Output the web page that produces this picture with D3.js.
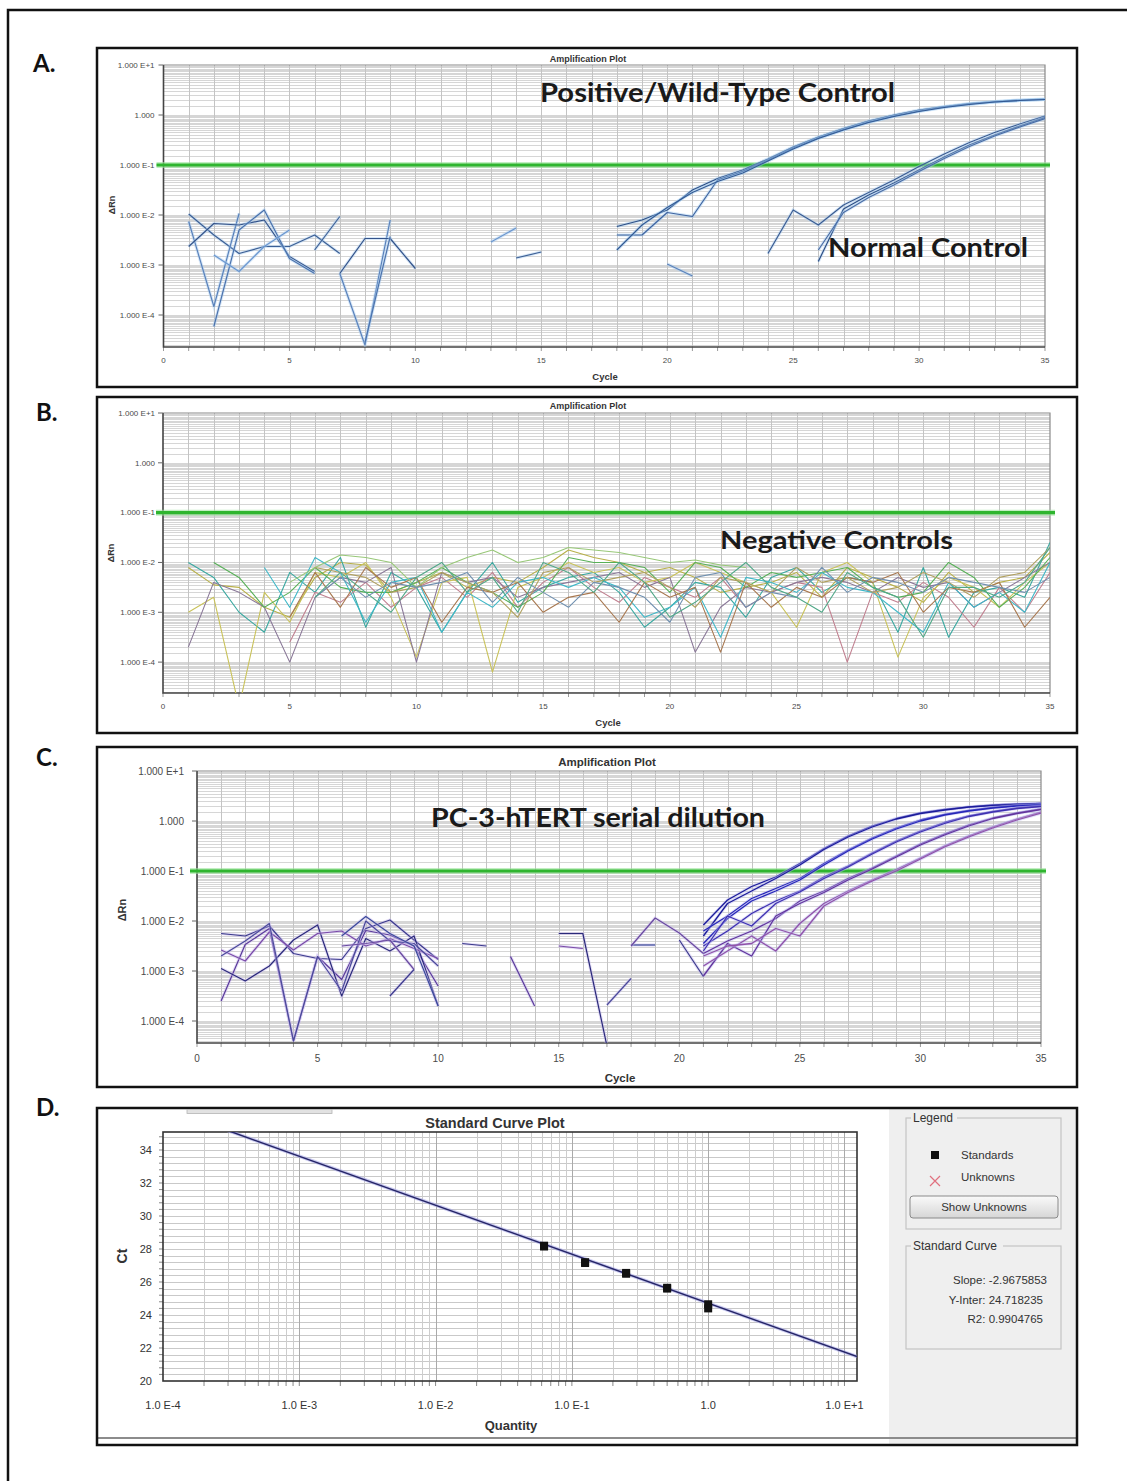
<!DOCTYPE html>
<html>
<head>
<meta charset="utf-8">
<script src="https://cdn.jsdelivr.net/npm/d3@7"></script>
<style>
  body { margin: 0; background: #fff; }
  svg { display: block; }
</style>
</head>
<body>
<div id="chart"></div>
<script>
// values are log10(ΔRn), one entry per cycle starting at "from"
const aNoise = [
	{from: 1, v: [-1.98, -2.4, -2.77, -2.63, -2.63, -2.4, -2.77]},
	{from: 1, v: [-2.13, -3.83, -1.97]},
	{from: 1, v: [-2.63, -2.17, -2.2, -2.1, -2.83, -3.13]},
	{from: 2, v: [-4.23, -2.3, -1.9, -2.87, -3.17]},
	{from: 2, v: [-2.8, -3.13, -2.63, -2.3]},
	{from: 6, v: [-2.7, -2.03]},
	{from: 7, v: [-3.17, -4.6, -2.1]},
	{from: 7, v: [-3.17, -2.47, -2.47, -3.07]},
	{from: 8, v: [-4.55, -2.43]},
	{from: 13, v: [-2.54, -2.26]},
	{from: 14, v: [-2.86, -2.74]},
	{from: 20, v: [-2.98, -3.22]}
];
const posRep1 = [-2.23, -2.1, -1.9, -1.5, -1.27, -1.1, -0.88, -0.64, -0.44, -0.27, -0.12, 0.0, 0.1, 0.17, 0.23, 0.27, 0.3, 0.32];
const posRep2 = [-2.4, -2.4, -1.95, -2.03, -1.3, -1.13, -0.9, -0.66, -0.46, -0.29, -0.14, -0.02, 0.08, 0.16, 0.22, 0.26, 0.29, 0.31];
const posRep3 = [-2.7, -2.2, -1.85, -1.55, -1.33, -1.16, -0.92, -0.68, -0.47, -0.3, -0.15, -0.03, 0.07, 0.15, 0.21, 0.26, 0.29, 0.31];
const normRep1 = [-2.77, -1.9, -2.2, -1.8, -1.55, -1.3, -1.03, -0.78, -0.55, -0.35, -0.18, -0.02];
const normRep2 = [-2.93, -1.88, -1.6, -1.36, -1.1, -0.84, -0.6, -0.4, -0.22, -0.05];
const normRep3 = [-2.7, -1.95, -1.65, -1.4, -1.13, -0.87, -0.63, -0.42, -0.24, -0.07];

// panel B, negative controls, cycles 1..35
const negWells = [
	[-2.1, -2.45, -2.5, -2.9, -3.1, -2.3, -2.0, -2.05, -2.6, -2.4, -2.2, -2.5, -2.3, -2.4, -2.1, -1.75, -1.9, -2.0, -2.2, -2.1, -2.3, -2.6, -2.5, -2.4, -2.2, -2.7, -2.1, -2.3, -2.5, -2.8, -2.2, -2.6, -2.4, -2.3, -1.8],
	[-2.0, -2.3, -3.0, -3.4, -2.2, -2.6, -1.9, -3.3, -2.2, -2.5, -3.4, -2.6, -2.0, -2.8, -2.5, -2.3, -2.2, -2.6, -3.3, -2.9, -2.4, -2.5, -3.1, -2.3, -2.1, -2.6, -2.3, -2.4, -3.4, -2.1, -3.5, -2.6, -2.5, -2.7, -1.6],
	[null, null, null, null, -3.6, -2.6, -2.8, -2.4, -2.9, -2.5, -2.3, -2.7, -2.2, -2.9, -2.4, -2.1, -2.5, -2.8, -2.3, -2.5, -2.7, -2.3, -2.9, -2.6, -2.4, -2.5, -4.0, -2.6, -2.8, -2.4, -2.7, -3.3, -2.5, -3.0, -2.2],
	[-3.0, -2.7, -4.9, -2.6, -3.2, -2.2, -2.3, -2.0, -2.7, -3.9, -2.4, -2.3, -4.2, -2.5, -2.3, -2.0, -2.2, -2.1, -2.4, -2.3, -2.0, -2.2, -2.4, -2.6, -3.3, -2.2, -2.0, -2.4, -3.9, -2.7, -2.3, -2.5, -2.9, -2.4, -2.0],
	[-3.7, -2.4, -2.6, -2.9, -4.0, -2.7, -2.3, -2.4, -2.1, -4.0, -2.2, -2.4, -2.3, -2.7, -2.5, -2.4, -2.3, -2.2, -2.5, -2.3, -3.8, -2.9, -2.5, -2.6, -2.4, -2.3, -2.4, -2.6, -2.3, -2.5, -2.4, -2.9, -2.6, -2.3, -2.0],
	[null, -2.0, -2.3, -2.9, -2.6, -2.1, -2.5, -2.6, -2.6, -2.4, -2.1, -2.4, -2.6, -2.9, -2.6, -1.9, -2.0, -2.0, -2.1, -2.6, -2.0, -2.1, -2.5, -2.2, -2.3, -2.2, -2.1, -2.5, -2.7, -2.6, -2.0, -2.3, -2.9, -2.5, -1.9],
	[null, null, null, -2.1, -2.9, -1.9, -2.2, -3.2, -2.4, -2.3, -3.4, -2.6, -2.9, -2.4, -2.3, -2.5, -2.3, -2.5, -3.1, -2.9, -2.5, -3.5, -2.3, -2.4, -2.6, -2.2, -2.5, -2.6, -3.0, -3.4, -2.4, -2.9, -2.6, -3.0, -2.0],
	[null, null, null, null, -3.1, -2.2, -2.9, -2.1, -2.5, -2.3, -3.2, -2.5, -2.6, -2.4, -3.0, -2.7, -2.6, -3.2, -2.4, -2.7, -2.5, -3.8, -2.4, -2.9, -2.5, -2.7, -2.3, -2.4, -2.2, -3.0, -2.5, -2.6, -2.4, -3.3, -2.7],
	[null, null, null, null, -2.4, -2.1, -1.85, -1.9, -2.0, -2.5, -2.1, -1.9, -1.75, -2.0, -1.9, -1.7, -1.75, -1.8, -1.9, -2.0, -1.95, -2.05, -2.1, null, null, null, null, null, null, null, null, null, null, null, null],
	[null, null, null, null, null, -2.1, -2.2, -2.3, -2.6, -2.5, -2.2, -2.4, -2.6, -3.1, -2.2, -2.1, -2.4, -2.3, -2.2, -2.5, -2.9, -2.3, -2.4, -2.6, -2.1, -2.4, -2.3, -2.6, -2.5, -2.2, -2.4, -2.7, -2.3, -2.2, -1.7],
	[null, null, null, null, null, -2.7, -2.3, -2.7, -2.4, -2.5, -2.4, -2.2, -2.8, -2.3, -2.6, -2.9, -2.4, -2.5, -2.7, -3.2, -2.3, -2.2, -2.9, -2.6, -2.7, -2.1, -2.6, -2.3, -2.4, -2.6, -2.3, -2.4, -2.5, -2.6, -2.3],
	[null, null, null, null, null, -2.7, -2.2, -2.6, -3.0, -2.3, -2.0, -2.6, -2.3, -3.0, -2.0, -2.2, -2.6, -2.0, -2.4, -3.1, -2.8, -2.4, -2.0, -2.5, -2.7, -3.0, -2.2, -2.5, -2.7, -3.5, -2.5, -2.5, -2.7, -2.4, -1.7]
];
const negColors = ["#b8b04a", "#3aa8a0", "#c07f8f", "#c9c25a", "#8a7898", "#58b058", "#40b8c8", "#a87850", "#98c878", "#b0a060", "#7090b0", "#50a888"];

// panel C
const cNoise = [
	{from: 1, v: [-2.25, -2.3, -2.1, -2.65, -2.75, -2.77, -2.15, -1.98, -2.38, -2.77]},
	{from: 1, v: [-3.6, -2.47, -2.15, -4.4, -2.71, -3.17, -2.19, -2.28, -2.5, -3.3]},
	{from: 1, v: [-2.95, -3.2, -2.9, -2.38, -2.08, -3.5, -2.35, -2.6, -2.3, -3.7]},
	{from: 1, v: [-2.58, -2.8, -2.22, -2.58, -2.25, -2.2, -2.5, -2.35, -2.55, -2.75]},
	{from: 1, v: [-2.7, -2.4, -2.05, -4.4, -2.71, -3.4, -2.0, -2.4, -2.45, -2.9]},
	{from: 6, v: [-2.3, -1.91, -2.25, -2.5, -3.7]},
	{from: 6, v: [-2.5, -2.45, -2.38, -2.97]},
	{from: 8, v: [-3.5, -2.97]},
	{from: 11, v: [-2.45, -2.5]},
	{from: 13, v: [-2.71, -3.7]},
	{from: 15, v: [-2.25, -2.25, -4.5]},
	{from: 15, v: [-2.5, -2.55]},
	{from: 17, v: [-3.68, -3.15]},
	{from: 18, v: [-2.48, -2.48]},
	{from: 18, v: [-2.5, -1.94, -2.24, -2.65]},
	{from: 20, v: [-2.38, -3.11]}
];
const cNoiseColors = ["#3a3a8c", "#5a3a9a", "#2a2a7a", "#7a4aa8", "#4a4a9a", "#3a4a9a", "#6a4aa0", "#3a3a8c"];
// dilution curves, cycles 21..35, two wells per dilution
const dil1a = [-2.08, -1.58, -1.31, -1.12, -0.85, -0.55, -0.3, -0.1, 0.05, 0.16, 0.23, 0.28, 0.32, 0.34, 0.35];
const dil1b = [-2.3, -1.65, -1.4, -1.15, -0.88, -0.57, -0.32, -0.12, 0.04, 0.15, 0.22, 0.28, 0.31, 0.33, 0.35];
const dil2a = [-2.2, -1.9, -1.55, -1.35, -1.15, -0.85, -0.58, -0.34, -0.14, 0.02, 0.13, 0.21, 0.27, 0.31, 0.33];
const dil2b = [-2.45, -1.95, -1.6, -1.4, -1.18, -0.88, -0.6, -0.36, -0.16, 0.0, 0.12, 0.2, 0.26, 0.3, 0.32];
const dil3a = [-2.5, -2.2, -1.85, -1.6, -1.4, -1.12, -0.9, -0.64, -0.4, -0.2, -0.03, 0.1, 0.19, 0.26, 0.3];
const dil3b = [-2.6, -1.9, -2.1, -1.65, -1.42, -1.15, -0.92, -0.66, -0.42, -0.22, -0.05, 0.09, 0.18, 0.25, 0.29];
const dil4a = [-2.65, -2.4, -2.2, -1.95, -1.6, -1.4, -1.15, -0.94, -0.7, -0.46, -0.26, -0.08, 0.06, 0.16, 0.24];
const dil4b = [-3.1, -2.45, -2.7, -1.9, -1.65, -1.43, -1.18, -0.96, -0.72, -0.48, -0.28, -0.1, 0.05, 0.15, 0.23];
const dil5a = [-2.9, -2.6, -2.3, -2.6, -2.05, -1.65, -1.4, -1.18, -0.97, -0.74, -0.5, -0.3, -0.12, 0.04, 0.18];
const dil5b = [-2.7, -2.5, -2.45, -2.15, -2.3, -1.7, -1.43, -1.2, -1.0, -0.76, -0.52, -0.32, -0.14, 0.02, 0.16];

// panel D, standard curve
const stdQuantity = [0.0625, 0.0625, 0.125, 0.125, 0.25, 0.25, 0.5, 0.5, 1, 1];
const stdCt = [28.2, 28.15, 27.2, 27.15, 26.55, 26.5, 25.6, 25.65, 24.65, 24.4];
const fitSlope = -2.9675853;
const fitIntercept = 24.718235;
const fitR2 = 0.9904765;

// ticks
const ampTickValues = [10, 1, 0.1, 0.01, 0.001, 0.0001];
const ampTickLabels = ["1.000 E+1", "1.000", "1.000 E-1", "1.000 E-2", "1.000 E-3", "1.000 E-4"];
const cycleTicks = [0, 5, 10, 15, 20, 25, 30, 35];
const stdYTicks = [20, 22, 24, 26, 28, 30, 32, 34];
const stdXTickValues = [1e-4, 1e-3, 1e-2, 1e-1, 1, 10];
const stdXTickLabels = ["1.0 E-4", "1.0 E-3", "1.0 E-2", "1.0 E-1", "1.0", "1.0 E+1"];
const minorSteps = [1, 1.5, 2, 2.5, 3, 3.5, 4, 4.5, 5, 5.5, 6, 6.5, 7, 7.5, 8, 8.5, 9, 9.5];
const threshold = 0.1;

const W = 1127, H = 1481;
const SANS = "'Liberation Sans', Arial, sans-serif";
const CAL = "Lato, 'Open Sans', sans-serif";

const svg = d3.select("#chart").append("svg")
	.attr("width", W)
	.attr("height", H);

svg.append("rect").attr("width", W).attr("height", H).attr("fill", "#fff");

// outer frame, cut off at right and bottom
svg.append("path")
	.attr("d", "M8," + H + " V10 H" + W)
	.attr("fill", "none")
	.attr("stroke", "#111")
	.attr("stroke-width", 2.5);

function seg(from, values) {
	return values.map(function(v, i) { return {c: from + i, lv: v}; });
}

function drawAmpPanel(p) {
	const x = d3.scaleLinear().domain([0, 35]).range([p.left, p.right]);
	const y = d3.scaleLog().domain([Math.pow(10, p.minExp), 10]).range([p.bottom, p.top]);

	svg.append("rect")
		.attr("x", p.box[0]).attr("y", p.box[1])
		.attr("width", p.box[2] - p.box[0]).attr("height", p.box[3] - p.box[1])
		.attr("fill", "#fff")
		.attr("stroke", "#111")
		.attr("stroke-width", 2.5);

	svg.append("text")
		.attr("x", p.letter[0]).attr("y", p.letter[1])
		.attr("font-family", CAL).attr("font-weight", 700)
		.attr("font-size", 24).attr("fill", "#111")
		.text(p.name);

	const g = svg.append("g");

	// horizontal log grid, dense toward the top of each decade
	const hLines = [];
	for (let e = -5; e < 1; e++) {
		minorSteps.forEach(function(m) {
			const v = m * Math.pow(10, e);
			if (v > y.domain()[0] && v < 10) hLines.push(v);
		});
	}
	g.selectAll(null).data(hLines).enter().append("line")
		.attr("x1", p.left).attr("x2", p.right)
		.attr("y1", function(d) { return Math.round(y(d)) + 0.5; })
		.attr("y2", function(d) { return Math.round(y(d)) + 0.5; })
		.attr("stroke", "#d6d6d6")
		.attr("stroke-width", 1);

	g.selectAll(null).data(d3.range(1, 35)).enter().append("line")
		.attr("x1", function(d) { return Math.round(x(d)) + 0.5; })
		.attr("x2", function(d) { return Math.round(x(d)) + 0.5; })
		.attr("y1", p.top).attr("y2", p.bottom)
		.attr("stroke", "#c4c4c4");

	// x tick dashes under the axis
	g.selectAll(null).data(d3.range(0, 36)).enter().append("line")
		.attr("x1", function(d) { return x(d); })
		.attr("x2", function(d) { return x(d); })
		.attr("y1", p.bottom).attr("y2", p.bottom + 4)
		.attr("stroke", "#999");

	g.append("path")
		.attr("d", "M" + p.left + "," + p.top + " H" + p.right + " V" + p.bottom)
		.attr("fill", "none").attr("stroke", "#8a8a8a").attr("stroke-width", 1.2);
	g.append("path")
		.attr("d", "M" + p.left + "," + p.top + " V" + p.bottom + " H" + p.right)
		.attr("fill", "none").attr("stroke", "#444").attr("stroke-width", 1.6);

	g.selectAll(null).data(ampTickValues).enter().append("line")
		.attr("x1", p.left - 5).attr("x2", p.left)
		.attr("y1", function(d) { return y(d); })
		.attr("y2", function(d) { return y(d); })
		.attr("stroke", "#666");

	g.selectAll(null).data(ampTickValues).enter().append("text")
		.attr("x", p.left - p.tickGap)
		.attr("y", function(d) { return y(d); })
		.attr("dy", "0.35em")
		.attr("text-anchor", "end")
		.attr("font-family", SANS).attr("font-size", p.tickSize)
		.attr("fill", "#4a4a4a")
		.text(function(d, i) { return ampTickLabels[i]; });

	g.selectAll(null).data(cycleTicks).enter().append("text")
		.attr("x", function(d) { return x(d); })
		.attr("y", p.xLabelY)
		.attr("text-anchor", "middle")
		.attr("font-family", SANS).attr("font-size", p.tickSize)
		.attr("fill", "#4a4a4a")
		.text(function(d) { return d; });

	g.append("text")
		.attr("x", p.cycleLabel[0]).attr("y", p.cycleLabel[1])
		.attr("text-anchor", "middle")
		.attr("font-family", SANS).attr("font-weight", 700)
		.attr("font-size", p.tickSize + 1.5).attr("fill", "#333")
		.text("Cycle");

	g.append("text")
		.attr("transform", "translate(" + p.rnLabel[0] + "," + p.rnLabel[1] + ") rotate(-90)")
		.attr("text-anchor", "middle")
		.attr("font-family", SANS).attr("font-weight", 700)
		.attr("font-size", p.tickSize + 1).attr("fill", "#333")
		.text("ΔRn");

	g.append("text")
		.attr("x", p.title[0]).attr("y", p.title[1])
		.attr("text-anchor", "middle")
		.attr("font-family", SANS).attr("font-weight", 700)
		.attr("font-size", p.titleSize).attr("fill", "#333")
		.text("Amplification Plot");

	// threshold
	g.append("line")
		.attr("x1", p.left - 7).attr("x2", p.right + 5)
		.attr("y1", y(threshold)).attr("y2", y(threshold))
		.attr("stroke", "#9be39b").attr("stroke-width", 6).attr("opacity", 0.6);
	g.append("line")
		.attr("x1", p.left - 7).attr("x2", p.right + 5)
		.attr("y1", y(threshold)).attr("y2", y(threshold))
		.attr("stroke", "#2fb52f").attr("stroke-width", 3.2);

	const clipId = "clip-" + p.name.charAt(0);
	svg.append("clipPath").attr("id", clipId)
		.append("rect")
		.attr("x", p.left).attr("y", p.top)
		.attr("width", p.right - p.left).attr("height", p.bottom - p.top);

	const line = d3.line()
		.defined(function(d) { return d.lv !== null; })
		.x(function(d) { return x(d.c); })
		.y(function(d) { return y(Math.pow(10, d.lv)); });

	const lg = g.append("g").attr("clip-path", "url(#" + clipId + ")");
	p.series.forEach(function(s) {
		if (s.halo) {
			lg.append("path").datum(s.pts)
				.attr("d", line).attr("fill", "none")
				.attr("stroke", s.halo).attr("stroke-width", 3.2)
				.attr("opacity", 0.45);
		}
		lg.append("path").datum(s.pts)
			.attr("d", line).attr("fill", "none")
			.attr("stroke", s.color).attr("stroke-width", s.width || 1.2)
			.attr("stroke-linejoin", "round");
	});

	p.notes.forEach(function(n) {
		g.append("text")
			.attr("x", n.x).attr("y", n.y)
			.attr("font-family", CAL).attr("font-weight", 700)
			.attr("font-size", n.size).attr("fill", "#1a1a1a")
			.attr("textLength", n.w).attr("lengthAdjust", "spacingAndGlyphs")
			.text(n.text);
	});
}

// ---- panel A
const aColors = ["#3c5f95", "#5a82bb", "#34538a", "#4c73ad", "#6a96cf"];
const aSeries = aNoise.map(function(s, i) {
	return {pts: seg(s.from, s.v), color: aColors[i % aColors.length], halo: "#a9cdef"};
});
[posRep1, posRep2, posRep3].forEach(function(v, i) {
	aSeries.push({pts: seg(18, v), color: ["#2d4f86", "#3f64a0", "#335a94"][i], halo: "#9cc8ef"});
});
aSeries.push({pts: seg(24, normRep1), color: "#3b5c92", halo: "#a9cdef"});
aSeries.push({pts: seg(26, normRep2), color: "#2d4f86", halo: "#a9cdef"});
aSeries.push({pts: seg(26, normRep3), color: "#4a6da6", halo: "#a9cdef"});

drawAmpPanel({
	name: "A.", letter: [33, 72],
	box: [97, 48, 1077, 387],
	left: 163.5, right: 1045, top: 65, bottom: 347, minExp: -4.64,
	tickSize: 8, tickGap: 9, xLabelY: 363,
	cycleLabel: [605, 380], rnLabel: [115, 205],
	title: [588, 62], titleSize: 9,
	series: aSeries,
	notes: [
		{text: "Positive/Wild-Type Control", x: 540, y: 102, size: 27, w: 355},
		{text: "Normal Control", x: 828, y: 257, size: 26, w: 200}
	]
});

// ---- panel B
drawAmpPanel({
	name: "B.", letter: [36, 421],
	box: [97, 397, 1077, 733],
	left: 163, right: 1050, top: 413, bottom: 693, minExp: -4.62,
	tickSize: 8, tickGap: 8, xLabelY: 709,
	cycleLabel: [608, 726], rnLabel: [114, 553],
	title: [588, 409], titleSize: 9,
	series: negWells.map(function(v, i) {
		return {pts: seg(1, v), color: negColors[i], width: 1.1};
	}),
	notes: [
		{text: "Negative Controls", x: 720, y: 549, size: 25, w: 233}
	]
});

// ---- panel C
const cSeries = cNoise.map(function(s, i) {
	return {pts: seg(s.from, s.v), color: cNoiseColors[i % cNoiseColors.length], halo: "#c8b8ee"};
});
const dilColors = ["#1c1c9a", "#2626b8", "#3e30b0", "#63349c", "#9152a8"];
[[dil1a, dil1b], [dil2a, dil2b], [dil3a, dil3b], [dil4a, dil4b], [dil5a, dil5b]].forEach(function(pair, i) {
	pair.forEach(function(v) {
		cSeries.push({pts: seg(21, v), color: dilColors[i], halo: "#b9b6f2", width: 1.3});
	});
});

drawAmpPanel({
	name: "C.", letter: [36, 766],
	box: [97, 747, 1077, 1087],
	left: 197, right: 1041, top: 771, bottom: 1043, minExp: -4.44,
	tickSize: 10, tickGap: 13, xLabelY: 1062,
	cycleLabel: [620, 1082], rnLabel: [126, 910],
	title: [607, 766], titleSize: 11.5,
	series: cSeries,
	notes: [
		{text: "PC-3-hTERT serial dilution", x: 431, y: 827, size: 27, w: 334}
	]
});

// ---- panel D
function drawStdPanel() {
	const box = [97, 1108, 1077, 1445];
	const left = 163, right = 857, top = 1132, bottom = 1381;
	const x = d3.scaleLog().domain([1e-4, Math.pow(10, 1.092)]).range([left, right]);
	const y = d3.scaleLinear().domain([20, 35.09]).range([bottom, top]);

	svg.append("rect")
		.attr("x", box[0]).attr("y", box[1])
		.attr("width", box[2] - box[0]).attr("height", box[3] - box[1])
		.attr("fill", "#fff");
	svg.append("rect")
		.attr("x", 889).attr("y", box[1])
		.attr("width", box[2] - 889).attr("height", box[3] - box[1])
		.attr("fill", "#efefef");
	svg.append("line")
		.attr("x1", box[0]).attr("x2", box[2])
		.attr("y1", 1438).attr("y2", 1438)
		.attr("stroke", "#8c8c8c").attr("stroke-width", 2);
	svg.append("rect")
		.attr("x", box[0]).attr("y", box[1])
		.attr("width", box[2] - box[0]).attr("height", box[3] - box[1])
		.attr("fill", "none")
		.attr("stroke", "#111").attr("stroke-width", 2.5);
	// leftover tab at the top
	svg.append("rect")
		.attr("x", 187).attr("y", 1109.5).attr("width", 145).attr("height", 4)
		.attr("fill", "#e2e2e2").attr("stroke", "#b5b5b5").attr("stroke-width", 0.8);

	svg.append("text")
		.attr("x", 36).attr("y", 1116)
		.attr("font-family", CAL).attr("font-weight", 700)
		.attr("font-size", 24).attr("fill", "#111")
		.text("D.");

	const g = svg.append("g");
	g.append("rect")
		.attr("x", left).attr("y", top)
		.attr("width", right - left).attr("height", bottom - top)
		.attr("fill", "#fff");

	const hLines = d3.range(20.4, 35.09, 0.4);
	g.selectAll(null).data(hLines).enter().append("line")
		.attr("x1", left).attr("x2", right)
		.attr("y1", function(d) { return Math.round(y(d)) + 0.5; })
		.attr("y2", function(d) { return Math.round(y(d)) + 0.5; })
		.attr("stroke", "#c9c9c9");
	g.selectAll(null).data(hLines).enter().append("line")
		.attr("x1", left - 4).attr("x2", left)
		.attr("y1", function(d) { return y(d); })
		.attr("y2", function(d) { return y(d); })
		.attr("stroke", "#888");

	const vLines = [];
	for (let e = -4; e <= 1; e++) {
		[1, 2, 3, 4, 5, 6, 7, 8, 9].forEach(function(m) {
			const v = m * Math.pow(10, e);
			if (v > 1e-4 && v < x.domain()[1]) vLines.push(v);
		});
	}
	g.selectAll(null).data(vLines).enter().append("line")
		.attr("x1", function(d) { return Math.round(x(d)) + 0.5; })
		.attr("x2", function(d) { return Math.round(x(d)) + 0.5; })
		.attr("y1", top).attr("y2", bottom)
		.attr("stroke", function(d) { return stdXTickValues.indexOf(d) >= 0 ? "#aaa" : "#cdcdcd"; });
	g.selectAll(null).data(vLines).enter().append("line")
		.attr("x1", function(d) { return x(d); })
		.attr("x2", function(d) { return x(d); })
		.attr("y1", bottom).attr("y2", bottom + 5)
		.attr("stroke", "#888");

	g.append("rect")
		.attr("x", left).attr("y", top)
		.attr("width", right - left).attr("height", bottom - top)
		.attr("fill", "none").attr("stroke", "#333").attr("stroke-width", 1.6);

	g.selectAll(null).data(stdYTicks).enter().append("text")
		.attr("x", left - 11)
		.attr("y", function(d) { return y(d); })
		.attr("dy", "0.35em")
		.attr("text-anchor", "end")
		.attr("font-family", SANS).attr("font-size", 11)
		.attr("fill", "#333")
		.text(function(d) { return d; });

	g.selectAll(null).data(stdXTickValues).enter().append("text")
		.attr("x", function(d) { return x(d); })
		.attr("y", 1409)
		.attr("text-anchor", "middle")
		.attr("font-family", SANS).attr("font-size", 11)
		.attr("fill", "#333")
		.text(function(d, i) { return stdXTickLabels[i]; });

	g.append("text")
		.attr("x", 495).attr("y", 1128)
		.attr("text-anchor", "middle")
		.attr("font-family", SANS).attr("font-weight", 700)
		.attr("font-size", 14.5).attr("fill", "#333")
		.text("Standard Curve Plot");
	g.append("text")
		.attr("x", 511).attr("y", 1430)
		.attr("text-anchor", "middle")
		.attr("font-family", SANS).attr("font-weight", 700)
		.attr("font-size", 13).attr("fill", "#333")
		.text("Quantity");
	g.append("text")
		.attr("transform", "translate(127,1256) rotate(-90)")
		.attr("text-anchor", "middle")
		.attr("font-family", SANS).attr("font-weight", 700)
		.attr("font-size", 14).attr("fill", "#333")
		.text("Ct");

	svg.append("clipPath").attr("id", "clip-D")
		.append("rect")
		.attr("x", left).attr("y", top)
		.attr("width", right - left).attr("height", bottom - top);

	const fit = d3.line()
		.x(function(d) { return x(d); })
		.y(function(d) { return y(fitSlope * Math.log10(d) + fitIntercept); });
	const lg = g.append("g").attr("clip-path", "url(#clip-D)");
	lg.append("path").datum(x.domain())
		.attr("d", fit).attr("fill", "none")
		.attr("stroke", "#a8a8e8").attr("stroke-width", 3.5).attr("opacity", 0.6);
	lg.append("path").datum(x.domain())
		.attr("d", fit).attr("fill", "none")
		.attr("stroke", "#262668").attr("stroke-width", 1.5);

	lg.selectAll(null).data(stdQuantity).enter().append("rect")
		.attr("x", function(d) { return x(d) - 4; })
		.attr("y", function(d, i) { return y(stdCt[i]) - 4; })
		.attr("width", 8).attr("height", 8)
		.attr("fill", "#111");

	// legend group
	function groupBox(x0, y0, x1, y1, title, tw) {
		svg.append("rect")
			.attr("x", x0).attr("y", y0).attr("width", x1 - x0).attr("height", y1 - y0)
			.attr("fill", "none").attr("stroke", "#c4c4c4").attr("stroke-width", 1.2);
		svg.append("rect")
			.attr("x", x0 + 5).attr("y", y0 - 3).attr("width", tw).attr("height", 6)
			.attr("fill", "#efefef");
		svg.append("text")
			.attr("x", x0 + 7).attr("y", y0 + 4)
			.attr("font-family", SANS).attr("font-size", 12)
			.attr("fill", "#333")
			.text(title);
	}
	groupBox(906, 1118, 1061, 1229, "Legend", 46);
	groupBox(906, 1246, 1061, 1349, "Standard Curve", 92);

	svg.append("rect")
		.attr("x", 931).attr("y", 1151).attr("width", 8).attr("height", 8)
		.attr("fill", "#111");
	svg.append("text")
		.attr("x", 961).attr("y", 1159)
		.attr("font-family", SANS).attr("font-size", 11.5).attr("fill", "#333")
		.text("Standards");
	svg.append("path")
		.attr("d", "M930,1176 l10,10 M940,1176 l-10,10")
		.attr("stroke", "#e0707e").attr("stroke-width", 1.2);
	svg.append("text")
		.attr("x", 961).attr("y", 1181)
		.attr("font-family", SANS).attr("font-size", 11.5).attr("fill", "#333")
		.text("Unknowns");

	const grad = svg.append("defs").append("linearGradient")
		.attr("id", "btn").attr("x1", 0).attr("x2", 0).attr("y1", 0).attr("y2", 1);
	grad.append("stop").attr("offset", 0).attr("stop-color", "#fafafa");
	grad.append("stop").attr("offset", 1).attr("stop-color", "#d6d6d6");
	svg.append("rect")
		.attr("x", 910).attr("y", 1196).attr("width", 148).attr("height", 22)
		.attr("rx", 3)
		.attr("fill", "url(#btn)").attr("stroke", "#8a8a8a");
	svg.append("text")
		.attr("x", 984).attr("y", 1211)
		.attr("text-anchor", "middle")
		.attr("font-family", SANS).attr("font-size", 11.5).attr("fill", "#333")
		.text("Show Unknowns");

	const stats = [
		"Slope: " + fitSlope.toFixed(7),
		"Y-Inter: " + fitIntercept.toFixed(6),
		"R2: " + fitR2.toFixed(7)
	];
	svg.selectAll(null).data(stats).enter().append("text")
		.attr("x", function(d, i) { return i === 0 ? 1047 : 1043; })
		.attr("y", function(d, i) { return 1284 + i * 19.5; })
		.attr("text-anchor", "end")
		.attr("font-family", SANS).attr("font-size", 11.5).attr("fill", "#333")
		.text(function(d) { return d; });
}

drawStdPanel();
</script>
</body>
</html>
